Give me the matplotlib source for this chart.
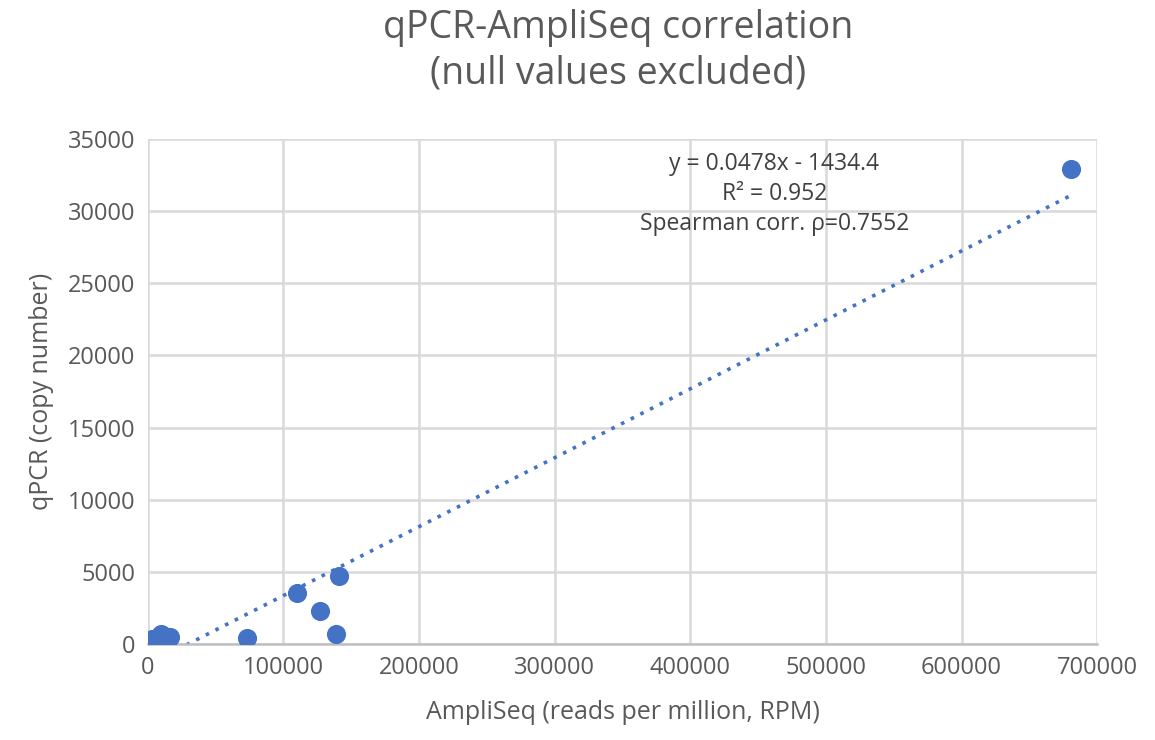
import numpy as np
import matplotlib.pyplot as plt

plt.rcParams['font.family'] = ['Open Sans', 'DejaVu Sans']

# data
rpm = [3000, 5000, 8000, 10000, 12000, 16000, 73000, 110000, 127000, 139000, 141000, 681000]
copies = [350, 300, 450, 700, 550, 450, 420, 3550, 2300, 700, 4700, 32950]
slope, intercept = 0.0478, -1434.4
xticks = list(range(0, 700001, 100000))
yticks = list(range(0, 35001, 5000))

blue = "#4472C4"
grid = "#D9D9D9"

fig = plt.figure(figsize=(11.55, 7.4), dpi=100)
ax = fig.add_axes([0.128, 0.130, 0.822, 0.682])

ax.scatter(rpm, copies, s=190, color=blue, zorder=3, linewidths=0)

xs = np.linspace(0, max(rpm), 200)
ax.plot(xs, slope * xs + intercept, linestyle=(0, (1, 2.0)), color=blue, lw=2.6, zorder=2)

ax.set_xlim(0, 700000)
ax.set_ylim(0, 35000)
ax.set_xticks(xticks)
ax.set_yticks(yticks)
ax.grid(True, color=grid, lw=1.8)
ax.set_axisbelow(True)
for s in ["top", "right", "left"]:
    ax.spines[s].set_visible(False)
ax.spines["bottom"].set_color("#BFBFBF")
ax.spines["bottom"].set_linewidth(1.8)
ax.tick_params(length=0, labelsize=17, colors="#595959", pad=9)

ax.set_xlabel("AmpliSeq (reads per million, RPM)", fontsize=18, color="#595959", labelpad=14)
ax.set_ylabel("qPCR (copy number)", fontsize=18, color="#595959", labelpad=10)

fig.text(0.535, 0.988, "qPCR-AmpliSeq correlation\n(null values excluded)", ha="center", va="top",
         fontsize=27, color="#595959", linespacing=1.25)

ax.text(0.66, 0.975, "y = 0.0478x - 1434.4\nR² = 0.952\nSpearman corr. ρ=0.7552", transform=ax.transAxes,
        ha="center", va="top", fontsize=16.5, color="#404040", linespacing=1.35)

fig.savefig("out.png", dpi=100)
